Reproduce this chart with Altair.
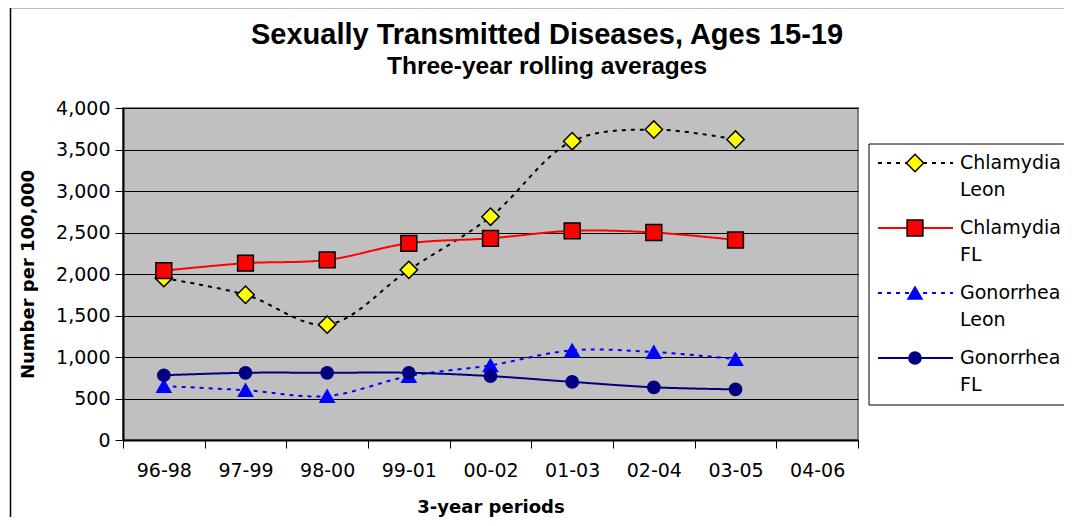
import altair as alt
import pandas as pd

periods = ["96-98", "97-99", "98-00", "99-01", "00-02", "01-03", "02-04", "03-05", "04-06"]
series = ["Chlamydia Leon", "Chlamydia FL", "Gonorrhea Leon", "Gonorrhea FL"]
chlamydia_leon = [1950, 1750, 1390, 2050, 2690, 3600, 3740, 3620]
chlamydia_fl = [2040, 2130, 2170, 2370, 2430, 2520, 2500, 2410]
gonorrhea_leon = [650, 600, 530, 770, 900, 1080, 1060, 975]
gonorrhea_fl = [780, 810, 810, 810, 770, 700, 635, 610]
legend_line1 = ["Chlamydia", "Chlamydia", "Gonorrhea", "Gonorrhea"]
legend_line2 = ["Leon", "FL", "Leon", "FL"]
y_ticks = [0, 500, 1000, 1500, 2000, 2500, 3000, 3500, 4000]
title_text = ["Sexually Transmitted Diseases, Ages 15-19"]
subtitle_text = ["Three-year rolling averages"]

rows = []
for s, vals in zip(series, [chlamydia_leon, chlamydia_fl, gonorrhea_leon, gonorrhea_fl]):
    for p, v in zip(periods, vals):
        rows.append({"period": p, "series": s, "value": v})
df = pd.DataFrame(rows)
leg = pd.DataFrame({"series": series, "l1": legend_line1, "l2": legend_line2})
box = pd.DataFrame({"box": [1]})
titles = pd.DataFrame({"title": title_text, "subtitle": subtitle_text})

line_colors = ["#000000", "#FF0000", "#0000FF", "#000080"]
fill_colors = ["#FFFF00", "#FF0000", "#0000FF", "#000080"]
outline_colors = ["#000000", "#000000", "#0000FF", "#000080"]
shapes = ["diamond", "square", "triangle-up", "circle"]
sizes = [300, 150, 256, 196]
dashes = [[4, 5], [1, 0], [4, 5], [1, 0]]

FONT = "DejaVu Sans"
TFONT = "Liberation Sans"

color = alt.Color("series:N", scale=alt.Scale(domain=series, range=line_colors), legend=None)
dash = alt.StrokeDash("series:N", scale=alt.Scale(domain=series, range=dashes), legend=None)
fill = alt.Fill("series:N", scale=alt.Scale(domain=series, range=fill_colors), legend=None)
stroke = alt.Stroke("series:N", scale=alt.Scale(domain=series, range=outline_colors), legend=None)
shape = alt.Shape("series:N", scale=alt.Scale(domain=series, range=shapes), legend=None)
size = alt.Size("series:N", scale=alt.Scale(domain=series, range=sizes), legend=None)

x = alt.X(
    "period:O",
    sort=periods,
    bandPosition=0.5,
    scale=alt.Scale(type="band", domain=periods, paddingInner=0, paddingOuter=0),
    axis=alt.Axis(
        title="3-year periods", tickBand="extent", labelAngle=0,
        labelFont=FONT, labelFontSize=19, labelColor="black", labelPadding=13,
        titleFont=FONT, titleFontSize=18, titleFontWeight="bold", titleColor="black", titlePadding=18,
        domainColor="black", domainWidth=2, tickColor="black", tickSize=8, tickWidth=1,
    ),
)
y = alt.Y(
    "value:Q",
    scale=alt.Scale(domain=[0, 4000], nice=False),
    axis=alt.Axis(
        values=y_ticks, format=",.0f", title="Number per 100,000",
        labelFont=FONT, labelFontSize=19, labelColor="black", labelPadding=5,
        titleFont=FONT, titleFontSize=18, titleFontWeight="bold", titleColor="black", titlePadding=18,
        domainColor="black", domainWidth=2, tickColor="black", tickSize=8, tickWidth=1,
        grid=True, gridColor="#000000", gridWidth=1,
    ),
)

base = alt.Chart(df)
lines = base.mark_line(interpolate="catmull-rom", strokeWidth=2).encode(
    x=x, y=y, color=color, strokeDash=dash, detail="series:N"
)
pts = base.mark_point(filled=True, strokeWidth=1.5, opacity=1).encode(
    x=x, y=alt.Y("value:Q", scale=alt.Scale(domain=[0, 4000], nice=False)),
    fill=fill, stroke=stroke, shape=shape, size=size,
)
main = alt.layer(lines, pts)

leg_y = alt.Y("series:N", scale=alt.Scale(type="point", domain=series, range=[55, 250], padding=0), axis=None)
legbase = alt.Chart(leg)
box_mark = alt.Chart(box).mark_rect(fill="white", stroke="black", strokeWidth=1).encode(
    x=alt.value(746), x2=alt.value(960), y=alt.value(36), y2=alt.value(297)
)
frame_left = alt.Chart(box).mark_rule(color="black", strokeWidth=1.5).encode(
    x=alt.value(-112.5), y=alt.value(-100.5), y2=alt.value(430)
)
frame_top = alt.Chart(box).mark_rule(color="black", strokeWidth=1.5).encode(
    x=alt.value(-112.5), x2=alt.value(960), y=alt.value(-100.5)
)
title_mark = alt.Chart(titles).mark_text(
    align="center", baseline="alphabetic", font=TFONT, fontSize=29, fontWeight="bold", color="black"
).encode(x=alt.value(424), y=alt.value(-64), text="title:N")
subtitle_mark = alt.Chart(titles).mark_text(
    align="center", baseline="alphabetic", font=TFONT, fontSize=24.5, fontWeight="bold", color="black"
).encode(x=alt.value(424), y=alt.value(-34), text="subtitle:N")
leg_rule = legbase.mark_rule(strokeWidth=2).encode(
    x=alt.value(755), x2=alt.value(830), y=leg_y, color=color, strokeDash=dash
)
leg_sym = legbase.mark_point(filled=True, strokeWidth=1.5, opacity=1).encode(
    x=alt.value(792), y=leg_y, fill=fill, stroke=stroke, shape=shape, size=size
)
leg_t1 = legbase.mark_text(align="left", baseline="middle", font=FONT, fontSize=19, color="black").encode(
    x=alt.value(837), y=leg_y, text="l1:N"
)
leg_t2 = legbase.mark_text(align="left", baseline="middle", font=FONT, fontSize=19, color="black", dy=27).encode(
    x=alt.value(837), y=leg_y, text="l2:N"
)
legend = alt.layer(frame_left, frame_top, title_mark, subtitle_mark, box_mark, leg_rule, leg_sym, leg_t1, leg_t2)

chart = alt.layer(main, legend).resolve_scale(y="independent").properties(
    width=735,
    height=332,
    padding={"left": 115, "top": 100, "right": 206, "bottom": 77},
    autosize=alt.AutoSizeParams(type="none"),
    background="white",
).configure_view(fill="#C0C0C0", stroke="#808080", strokeWidth=2)

chart.save("out.html", embed_options={"renderer": "svg", "actions": False})
